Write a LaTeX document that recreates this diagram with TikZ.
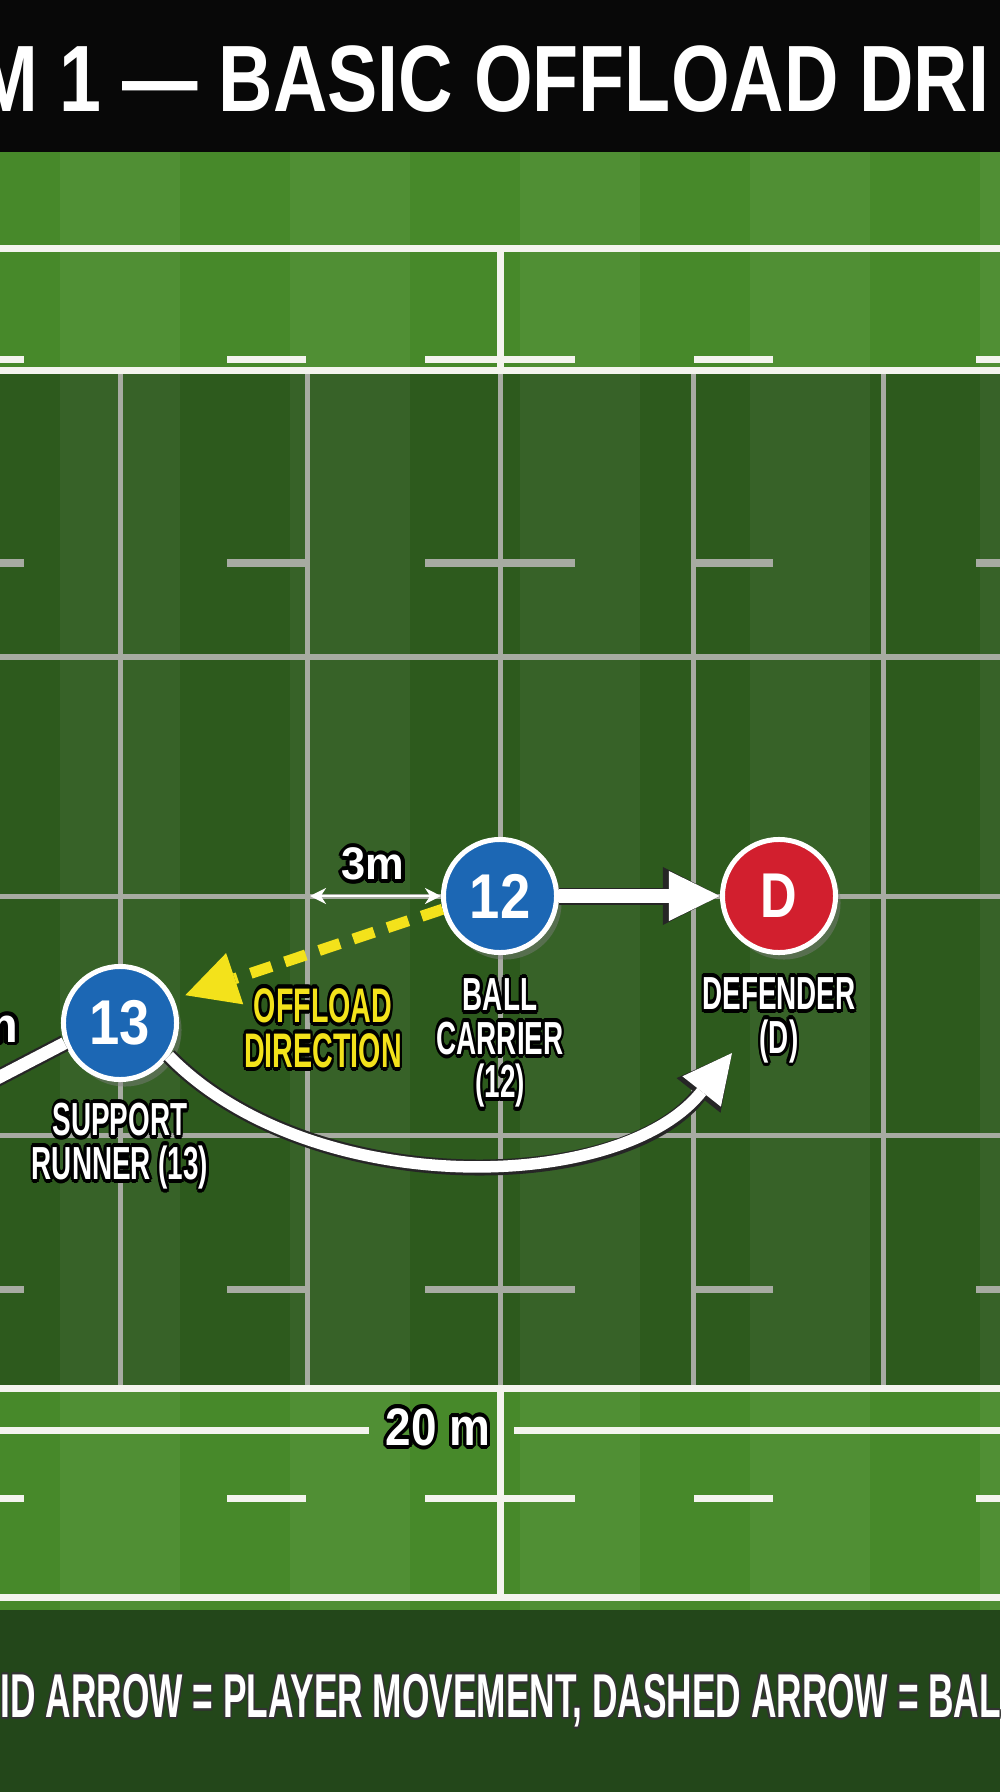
\documentclass[tikz,border=0pt]{standalone}
\usepackage{fontspec}
\setmainfont{Liberation Sans}
\usepackage{graphicx}
\usepackage[copies]{contour}
\contourlength{1.1pt}
\usetikzlibrary{arrows.meta,shadows}

\definecolor{pitchlight}{HTML}{47892A}
\definecolor{pitchdark}{HTML}{2D5A1D}
\definecolor{legendgreen}{HTML}{23471A}
\definecolor{gridgrey}{HTML}{A7ABA2}
\definecolor{pitchwhite}{HTML}{F4F4EE}
\definecolor{playerblue}{HTML}{1C67B4}
\definecolor{defred}{HTML}{D21F2E}
\definecolor{ballyellow}{HTML}{F3E21B}

\newcommand{\lbltxt}[1]{\scalebox{0.6}[1]{\contour{black}{#1}}}

\tikzset{
    pitchline/.style={draw=pitchwhite, line width=0.7mm},
    gridline/.style={draw=gridgrey, line width=0.5mm},
    player/.style={circle, draw=white, line width=0.5mm, minimum size=1.13cm, inner sep=0pt,
        text=white, font=\bfseries\fontsize{18}{18}\selectfont,
        drop shadow={shadow xshift=0.5mm, shadow yshift=-0.7mm, opacity=0.45}},
    lbl/.style={text=white, align=center, inner sep=0pt, font=\bfseries\fontsize{13.2}{12.4}\selectfont},
    moveedge/.style={draw=black!85, line width=1.7mm},
    moveline/.style={draw=white, line width=1.25mm},
    ballpass/.style={draw=ballyellow, line width=1.1mm, dash pattern=on 2.2mm off 1.4mm,
        -{Triangle[length=5.2mm, width=5.4mm, line width=0pt]}},
}

\begin{document}
\begin{tikzpicture}[x=0.01cm, y=-0.01cm]
    \useasboundingbox (0,0) rectangle (1000,1792);
    \clip (0,0) rectangle (1000,1792);

    % background
    \fill[black!97] (0,0) rectangle (1000,152);
    \fill[pitchlight] (0,152) rectangle (1000,1610);
    \fill[pitchdark] (0,372) rectangle (1000,1388);
    \foreach \sx in {60,290,520,750,980} {
        \fill[white, opacity=0.05] (\sx,152) rectangle ++(120,1458);
    }
    \fill[legendgreen] (0,1610) rectangle (1000,1792);

    % grid of the drill area
    \foreach \gx in {120,307,500,693,883} {
        \draw[gridline] (\gx,372) -- (\gx,1388);
    }
    \foreach \gy in {657,896,1135} {
        \draw[gridline] (0,\gy) -- (1000,\gy);
    }
    \foreach \dy in {563,1289} {
        \foreach \da/\db in {0/24,227/306,425/575,694/773,976/1000} {
            \draw[gridline, line width=0.7mm] (\da,\dy) -- (\db,\dy);
        }
    }

    % white pitch markings
    \draw[pitchline] (0,249) -- (1000,249);
    \draw[pitchline] (0,371) -- (1000,371);
    \draw[pitchline] (0,1388) -- (1000,1388);
    \draw[pitchline] (0,1597) -- (1000,1597);
    \draw[pitchline] (500,249) -- (500,371);
    \draw[pitchline] (500,1388) -- (500,1597);
    \draw[pitchline] (0,1430) -- (369,1430);
    \draw[pitchline] (514,1430) -- (1000,1430);
    \foreach \dy in {360,1498} {
        \foreach \da/\db in {0/24,227/306,425/575,694/773,976/1000} {
            \draw[pitchline] (\da,\dy) -- (\db,\dy);
        }
    }

    % title and legend
    \node[anchor=west, inner sep=0pt, text=white] (title) at (-25,79)
        {\scalebox{0.8}[1]{\fontsize{26.8}{30}\selectfont\bfseries M 1 — BASIC OFFLOAD DRI}};
    \node[anchor=west, inner sep=0pt, text=white] (legend) at (0,1702)
        {\scalebox{0.57}[1]{\fontsize{17.6}{20}\selectfont\bfseries\contourlength{0.6pt}\contour{black!80}{ID ARROW = PLAYER MOVEMENT, DASHED ARROW = BAL}}};
    \node[lbl, font=\bfseries\fontsize{15}{15}\selectfont] (fieldLbl) at (438,1429)
        {\scalebox{0.87}[1]{\contour{black}{20 m}}};

    % players
    \node[player, fill=playerblue] (n12) at (500,896) {\scalebox{0.86}[1]{12}};
    \node[player, fill=playerblue] (n13) at (120,1023) {\scalebox{0.86}[1]{13}};
    \node[player, fill=defred] (nD) at (779,896) {\scalebox{0.8}[1]{D}};

    \node[lbl] (n12Lbl) at (500,1045) {\lbltxt{BALL}\\\lbltxt{CARRIER}\\\lbltxt{(12)}};
    \node[lbl] (nDLbl) at (779,1022) {\lbltxt{DEFENDER}\\\lbltxt{(D)}};
    \node[lbl] (n13Lbl) at (120,1148) {\lbltxt{SUPPORT}\\\lbltxt{RUNNER (13)}};
    \node[lbl, text=ballyellow, font=\bfseries\fontsize{13.8}{12.8}\selectfont] (passLbl) at (323,1030)
        {\scalebox{0.59}[1]{\contour{black}{OFFLOAD}}\\\scalebox{0.59}[1]{\contour{black}{DIRECTION}}};

    % 3m gap
    \coordinate (gapL) at (310,896);
    \draw[white, line width=0.25mm, {Stealth[length=1.6mm, width=1.6mm]}-{Stealth[length=1.6mm, width=1.6mm]}] (gapL) -- (n12.west);
    \node[lbl, font=\bfseries\fontsize{13}{13}\selectfont] (gapLbl) at (373,866) {\scalebox{0.95}[1]{\contour{black}{3m}}};
    \node[lbl, font=\bfseries\fontsize{14}{14}\selectfont, anchor=base east] (edgeLbl) at (19,1042) {\contour{black}{m}};

    % player movement
    \coordinate (offLeft) at (-10,1082);
    \draw[moveedge] (offLeft) -- (n13.200);
    \draw[moveline] (offLeft) -- (n13.200);

    \draw[moveedge, -{Triangle[length=5.7mm, width=5.8mm, line width=0pt]}] (n12) -- (nD);
    \draw[moveline, line width=1.35mm, -{Triangle[length=5.1mm, width=5mm, line width=0pt]}] (n12) -- (nD);

    \coordinate (runTip) at (732,1053);
    \draw[moveedge, line width=1.6mm, -{Triangle[length=5.4mm, width=5.6mm, line width=0pt]}] (n13.-34) .. controls (310,1200) and (620,1195) .. (runTip);
    \draw[moveline, line width=1.15mm, -{Triangle[length=4.9mm, width=4.9mm, line width=0pt]}] (n13.-34) .. controls (310,1200) and (620,1195) .. (runTip);

    % ball
    \draw[ballpass, shorten >=1.2mm] (n12.193) -- (n13.24);
\end{tikzpicture}
\end{document}
